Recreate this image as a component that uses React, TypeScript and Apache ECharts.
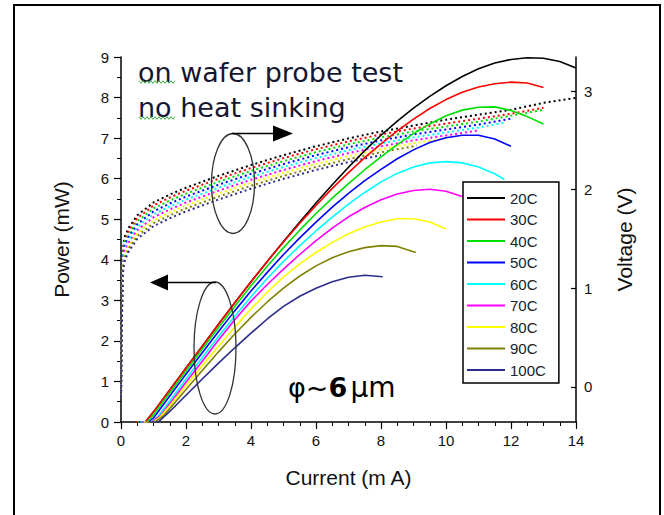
import React, { useEffect, useRef } from 'react';
import * as echarts from 'echarts';

// Legend names and colours
const temps = ['20C', '30C', '40C', '50C', '60C', '70C', '80C', '90C', '100C'];
const colors = ['#000000', '#ff0000', '#00e000', '#0000ff', '#00ffff', '#ff00ff', '#ffff00', '#808000', '#2b2b8c'];

// Optical power (mW) vs current (mA)
const p20 = [[0.45,0],[0.75,0],[1,0.25],[1.5,0.79],[2,1.33],[2.5,1.87],[3,2.41],[3.5,2.94],[4,3.46],[4.5,3.96],[5,4.45],[5.5,4.93],[6,5.4],[6.5,5.85],[7,6.28],[7.5,6.69],[8,7.07],[8.5,7.42],[9,7.74],[9.5,8.03],[10,8.29],[10.5,8.52],[11,8.71],[11.5,8.85],[12,8.94],[12.5,8.98],[13,8.97],[13.5,8.89],[14,8.73]];
const p30 = [[0.45,0],[0.75,0],[1,0.25],[1.5,0.79],[2,1.33],[2.5,1.87],[3,2.41],[3.5,2.94],[4,3.46],[4.5,3.96],[5,4.44],[5.5,4.9],[6,5.34],[6.5,5.76],[7,6.15],[7.5,6.52],[8,6.86],[8.5,7.18],[9,7.47],[9.5,7.73],[10,7.95],[10.5,8.13],[11,8.26],[11.5,8.34],[12,8.38],[12.5,8.36],[13,8.25]];
const p40 = [[0.5,0],[0.8,0],[1,0.18],[1.5,0.72],[2,1.26],[2.5,1.8],[3,2.33],[3.5,2.85],[4,3.36],[4.5,3.84],[5,4.3],[5.5,4.73],[6,5.14],[6.5,5.52],[7,5.88],[7.5,6.22],[8,6.54],[8.5,6.84],[9,7.11],[9.5,7.35],[10,7.55],[10.5,7.69],[11,7.76],[11.5,7.77],[12,7.68],[12.5,7.53],[13,7.35]];
const p50 = [[0.55,0],[0.85,0],[1,0.1],[1.5,0.64],[2,1.18],[2.5,1.71],[3,2.23],[3.5,2.74],[4,3.23],[4.5,3.69],[5,4.13],[5.5,4.54],[6,4.93],[6.5,5.3],[7,5.64],[7.5,5.95],[8,6.23],[8.5,6.49],[9,6.71],[9.5,6.89],[10,7.01],[10.5,7.07],[11,7.07],[11.5,6.98],[12,6.8]];
const p60 = [[0.6,0],[0.9,0],[1.1,0.1],[1.5,0.52],[2,1.06],[2.5,1.59],[3,2.11],[3.5,2.61],[4,3.09],[4.5,3.54],[5,3.96],[5.5,4.35],[6,4.71],[6.5,5.05],[7,5.37],[7.5,5.66],[8,5.92],[8.5,6.13],[9,6.29],[9.5,6.39],[10,6.42],[10.5,6.39],[11,6.29],[11.5,6.12],[11.8,5.98]];
const p70 = [[0.65,0],[0.95,0],[1.2,0.15],[1.5,0.45],[2,0.98],[2.5,1.5],[3,2.02],[3.5,2.52],[4,2.98],[4.5,3.39],[5,3.77],[5.5,4.13],[6,4.47],[6.5,4.78],[7,5.06],[7.5,5.29],[8,5.48],[8.5,5.62],[9,5.71],[9.5,5.74],[10,5.69],[10.5,5.56],[11,5.36]];
const p80 = [[0.7,0],[1,0],[1.2,0.12],[1.5,0.4],[2,0.9],[2.5,1.39],[3,1.87],[3.5,2.34],[4,2.79],[4.5,3.2],[5,3.58],[5.5,3.9],[6,4.18],[6.5,4.43],[7,4.64],[7.5,4.81],[8,4.93],[8.5,5.01],[9,5.01],[9.5,4.93],[10,4.76]];
const p90 = [[0.75,0],[1.05,0],[1.3,0.15],[1.5,0.33],[2,0.8],[2.5,1.27],[3,1.73],[3.5,2.17],[4,2.58],[4.5,2.96],[5,3.3],[5.5,3.6],[6,3.85],[6.5,4.05],[7,4.2],[7.5,4.3],[8,4.35],[8.5,4.33],[9.07,4.18]];
const p100 = [[0.85,0],[1.15,0],[1.5,0.26],[2,0.66],[2.5,1.06],[3,1.45],[3.5,1.83],[4,2.19],[4.5,2.54],[5,2.85],[5.5,3.1],[6,3.3],[6.5,3.46],[7,3.57],[7.5,3.62],[8.05,3.58]];

// Voltage (V) vs current (mA)
const v20 = [[0,-0.1],[0.01,0.4],[0.03,1.0],[0.06,1.4],[0.12,1.53],[0.25,1.62],[0.5,1.74],[1,1.87],[1.5,1.95],[2,2.02],[3,2.14],[4,2.25],[5,2.35],[6,2.44],[7,2.52],[8,2.59],[9,2.65],[10,2.71],[11,2.76],[12,2.81],[13,2.88],[14,2.93]];
const v30 = [[0,-0.1],[0.01,0.37],[0.03,0.96],[0.06,1.37],[0.12,1.5],[0.25,1.59],[0.5,1.71],[1,1.84],[1.5,1.92],[2,1.99],[3,2.11],[4,2.22],[5,2.32],[6,2.41],[7,2.49],[8,2.56],[9,2.62],[10,2.67],[11,2.72],[12,2.77],[13,2.83]];
const v40 = [[0,-0.1],[0.01,0.34],[0.03,0.92],[0.06,1.34],[0.12,1.47],[0.25,1.56],[0.5,1.68],[1,1.81],[1.5,1.89],[2,1.96],[3,2.08],[4,2.19],[5,2.29],[6,2.38],[7,2.46],[8,2.53],[9,2.59],[10,2.64],[11,2.69],[12,2.75],[13,2.81]];
const v50 = [[0,-0.1],[0.01,0.31],[0.03,0.88],[0.06,1.31],[0.12,1.44],[0.25,1.53],[0.5,1.65],[1,1.78],[1.5,1.86],[2,1.93],[3,2.05],[4,2.16],[5,2.26],[6,2.35],[7,2.43],[8,2.5],[9,2.56],[10,2.61],[11,2.66],[12,2.72]];
const v60 = [[0,-0.1],[0.01,0.28],[0.03,0.84],[0.06,1.28],[0.12,1.41],[0.25,1.5],[0.5,1.62],[1,1.75],[1.5,1.83],[2,1.9],[3,2.02],[4,2.13],[5,2.23],[6,2.32],[7,2.4],[8,2.47],[9,2.53],[10,2.58],[11,2.63],[11.8,2.68]];
const v70 = [[0,-0.1],[0.01,0.25],[0.03,0.8],[0.06,1.25],[0.12,1.38],[0.25,1.47],[0.5,1.59],[1,1.72],[1.5,1.8],[2,1.87],[3,1.99],[4,2.1],[5,2.2],[6,2.29],[7,2.37],[8,2.44],[9,2.5],[10,2.55],[11,2.6]];
const v80 = [[0,-0.1],[0.01,0.22],[0.03,0.76],[0.06,1.22],[0.12,1.35],[0.25,1.44],[0.5,1.56],[1,1.69],[1.5,1.77],[2,1.84],[3,1.96],[4,2.07],[5,2.17],[6,2.26],[7,2.34],[8,2.41],[9,2.47],[10,2.52]];
const v90 = [[0,-0.1],[0.01,0.19],[0.03,0.72],[0.06,1.19],[0.12,1.32],[0.25,1.41],[0.5,1.53],[1,1.66],[1.5,1.74],[2,1.81],[3,1.93],[4,2.04],[5,2.14],[6,2.23],[7,2.31],[8,2.38],[9,2.44],[9.1,2.45]];
const v100 = [[0,-0.1],[0.01,0.16],[0.03,0.68],[0.06,1.16],[0.12,1.29],[0.25,1.38],[0.5,1.5],[1,1.63],[1.5,1.71],[2,1.78],[3,1.9],[4,2.01],[5,2.11],[6,2.2],[7,2.28],[8,2.35]];

// Axis ticks
const voltTicks = [0, 1, 2, 3];

const powerSets = [p20, p30, p40, p50, p60, p70, p80, p90, p100];
const voltSets = [v20, v30, v40, v50, v60, v70, v80, v90, v100];

const FONT = 'Liberation Sans, Arial, sans-serif';

function squiggle(x0: number, x1: number, y: number) {
  const pts: number[][] = [];
  let up = true;
  for (let x = x0; x <= x1; x += 2) {
    pts.push([x, y + (up ? -1.3 : 1.3)]);
    up = !up;
  }
  return pts;
}

export default function App() {
  const ref = useRef<HTMLDivElement>(null);
  useEffect(() => {
    if (!ref.current) return;
    const chart = echarts.init(ref.current, undefined, { renderer: 'svg' });
    const series: any[] = [];
    voltSets.forEach((d, i) => {
      series.push({
        name: temps[i] + ' V',
        type: 'line',
        yAxisIndex: 1,
        data: d,
        symbol: 'none',
        smooth: false,
        lineStyle: { color: colors[i], width: 2, type: [2, 3] },
        itemStyle: { color: colors[i] },
        z: 2,
      });
    });
    powerSets.forEach((d, i) => {
      series.push({
        name: temps[i],
        type: 'line',
        yAxisIndex: 0,
        data: d,
        symbol: 'none',
        smooth: false,
        lineStyle: { color: colors[i], width: 1.6 },
        itemStyle: { color: colors[i] },
        z: 3,
      });
    });

    const axisLine = { show: true, onZero: false, lineStyle: { color: '#000', width: 1.5 } };
    const labelStyle = { fontFamily: FONT, fontSize: 15, color: '#111' };
    const nameStyle = { fontFamily: FONT, fontSize: 21, color: '#111' };

    chart.setOption({
      animation: false,
      backgroundColor: '#ffffff',
      grid: { left: 121, right: 88, top: 57, bottom: 93, containLabel: false },
      xAxis: {
        type: 'value', min: 0, max: 14, interval: 2,
        axisLine,
        axisTick: { show: true, length: 7, lineStyle: { color: '#000', width: 1.2 } },
        minorTick: { show: true, splitNumber: 4, length: 4, lineStyle: { color: '#000', width: 1 } },
        splitLine: { show: false },
        axisLabel: { ...labelStyle, margin: 11 },
        name: 'Current (m A)', nameLocation: 'middle', nameGap: 45, nameTextStyle: nameStyle,
      },
      yAxis: [
        {
          type: 'value', position: 'left', min: 0, max: 9, interval: 1,
          axisLine,
          axisTick: { show: true, length: 7, lineStyle: { color: '#000', width: 1.2 } },
          minorTick: { show: true, splitNumber: 2, length: 4, lineStyle: { color: '#000', width: 1 } },
          splitLine: { show: false },
          axisLabel: { ...labelStyle, margin: 12 },
          name: 'Power (mW)', nameLocation: 'middle', nameRotate: 90, nameGap: 49, nameTextStyle: nameStyle,
        },
        {
          type: 'value', position: 'right', min: -0.355, max: 3.345,
          axisLine,
          axisTick: { show: true, inside: true, length: 5, customValues: voltTicks, lineStyle: { color: '#000', width: 1.2 } },
          splitLine: { show: false },
          axisLabel: { ...labelStyle, margin: 8, customValues: voltTicks },
          name: 'Voltage (V)', nameLocation: 'middle', nameRotate: 90, nameGap: 38, nameTextStyle: nameStyle,
        },
      ],
      legend: {
        data: temps,
        orient: 'vertical',
        left: 463, top: 182,
        icon: 'rect', itemWidth: 38, itemHeight: 2, itemGap: 6.5,
        padding: [8.5, 13, 5.5, 4],
        backgroundColor: '#ffffff', borderColor: '#000', borderWidth: 1.5,
        selectedMode: false,
        textStyle: { fontFamily: FONT, fontSize: 15, lineHeight: 15, color: '#222' },
      },
      graphic: [
        { type: 'rect', shape: { x: 14, y: 5, width: 646, height: 520 }, style: { fill: 'none', stroke: '#000', lineWidth: 2 }, z: 10 },
        { type: 'ellipse', shape: { cx: 233, cy: 183.5, rx: 21.5, ry: 50 }, style: { fill: 'none', stroke: '#333', lineWidth: 1.3 }, z: 10 },
        { type: 'line', shape: { x1: 232, y1: 133.5, x2: 275, y2: 133.5 }, style: { stroke: '#000', lineWidth: 1.5 }, z: 10 },
        { type: 'polygon', shape: { points: [[273, 125.5], [293, 133.5], [273, 141.5]] }, style: { fill: '#000' }, z: 10 },
        { type: 'ellipse', shape: { cx: 215, cy: 348, rx: 21, ry: 66 }, style: { fill: 'none', stroke: '#333', lineWidth: 1.3 }, z: 10 },
        { type: 'line', shape: { x1: 216, y1: 282.5, x2: 166, y2: 282.5 }, style: { stroke: '#000', lineWidth: 1.5 }, z: 10 },
        { type: 'polygon', shape: { points: [[168, 274.5], [150, 282.5], [168, 290.5]] }, style: { fill: '#000' }, z: 10 },
        { type: 'text', x: 138, y: 72, style: { text: 'on wafer probe test', font: '27px "DejaVu Sans"', fill: '#161630', verticalAlign: 'middle', align: 'left' }, z: 10 },
        { type: 'text', x: 138, y: 107, style: { text: 'no heat sinking', font: '27px "DejaVu Sans"', fill: '#161630', verticalAlign: 'middle', align: 'left' }, z: 10 },
        { type: 'polyline', shape: { points: squiggle(139, 175, 82) }, style: { stroke: '#3fae49', lineWidth: 1, fill: 'none' }, z: 10 },
        { type: 'polyline', shape: { points: squiggle(139, 175, 118) }, style: { stroke: '#3fae49', lineWidth: 1, fill: 'none' }, z: 10 },
        {
          type: 'text', x: 288, y: 387, z: 10,
          style: {
            text: '{a|φ}{b|~}{c|6} {d|μm}',
            verticalAlign: 'middle', align: 'left',
            rich: {
              a: { fontFamily: 'DejaVu Sans', fontSize: 27, color: '#2f4f7f' },
              b: { fontFamily: 'DejaVu Sans', fontSize: 27, color: '#222' },
              c: { fontFamily: 'DejaVu Sans', fontSize: 27, fontWeight: 'bold', color: '#111' },
              d: { fontFamily: 'DejaVu Sans', fontSize: 28, color: '#1a1a30' },
            },
          },
        },
      ],
      series,
    });
    return () => chart.dispose();
  }, []);
  return <div ref={ref} style={{ position: 'fixed', left: 0, top: 0, width: 664, height: 515 }} />;
}
